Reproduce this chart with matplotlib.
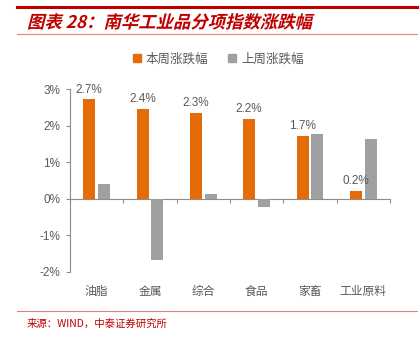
import matplotlib
matplotlib.use("Agg")
import matplotlib.pyplot as plt
import numpy as np
from matplotlib.lines import Line2D
from matplotlib.patches import Patch, PathPatch
from matplotlib.textpath import TextPath
from matplotlib.font_manager import FontProperties
from matplotlib.transforms import Affine2D

plt.rcParams['font.family'] = ['Liberation Sans', 'Noto Sans CJK SC', 'DejaVu Sans']

categories = ['油脂', '金属', '综合', '食品', '家畜', '工业原料']
this_week = [2.72, 2.45, 2.34, 2.18, 1.72, 0.21]
last_week = [0.41, -1.66, 0.14, -0.22, 1.78, 1.63]
value_labels = ['2.7%', '2.4%', '2.3%', '2.2%', '1.7%', '0.2%']
yticks = [-2, -1, 0, 1, 2, 3]
series_names = ['本周涨跌幅', '上周涨跌幅']

orange = '#E36C09'
gray = '#A0A0A0'
txt = '#595959'
axc = '#8C8C8C'
red = '#C00000'

fig = plt.figure(figsize=(4.2, 3.43), dpi=100)
ax = fig.add_axes([70/420, 1-272/343, 320/420, 183/343])

x = np.arange(len(categories))
w = 0.225
off = 0.14
ax.bar(x - off, this_week, w, color=orange, zorder=3)
ax.bar(x + off, last_week, w, color=gray, zorder=3)

for xi, v, lab in zip(x, this_week, value_labels):
    ax.text(xi - off, v + 0.1, lab, ha='center', va='bottom', fontsize=8.5, color=txt)

ax.set_xlim(-0.5, len(categories) - 0.5)
ax.set_ylim(-2, 3)
ax.set_yticks(yticks)
ax.set_yticklabels([f'{t}%' for t in yticks], fontsize=8.5, color=txt)
ax.tick_params(axis='y', direction='out', length=3, color=axc, pad=4)

for s in ['top', 'right', 'bottom']:
    ax.spines[s].set_visible(False)
ax.spines['left'].set_color(axc)
ax.spines['left'].set_linewidth(0.8)

ax.set_xticks(x)
ax.set_xticklabels(categories, fontsize=8.5, color=txt, family=['Noto Sans CJK SC'])
ax.tick_params(axis='x', length=0, pad=9)

sec = ax.secondary_xaxis(0.4)
sec.set_xticks(np.arange(-0.5, len(categories)))
sec.set_xticklabels([])
sec.tick_params(axis='x', direction='out', length=3, color=axc)
sec.spines['bottom'].set_color(axc)
sec.spines['bottom'].set_linewidth(0.8)

handles = [Patch(color=orange), Patch(color=gray)]
fig.legend(handles, series_names, loc='center', bbox_to_anchor=(0.52, 1-59/343), ncol=2,
           frameon=False, handlelength=0.6, handleheight=0.6, handletextpad=0.4,
           columnspacing=1.6, labelcolor=txt, prop={'family': ['Noto Sans CJK SC'], 'size': 9})

# decorations
fig.add_artist(Line2D([17/420, 417/420], [1-7/343, 1-7/343], color=red, lw=2.2))
fig.add_artist(Line2D([17/420, 417/420], [1-34/343, 1-34/343], color='#E88080', lw=0.8))
fig.add_artist(Line2D([17/420, 417/420], [1-311/343, 1-311/343], color='#E08080', lw=0.8))

# italic-looking title via sheared text path
fp = FontProperties(family='Noto Sans CJK SC', weight='bold')
tp = TextPath((0, 0), '图表 28：南华工业品分项指数涨跌幅', size=12.5, prop=fp)
tr = Affine2D().skew_deg(14, 0).scale(1/72).translate(27/100, (343-28)/100) + fig.dpi_scale_trans
fig.add_artist(PathPatch(tp, transform=tr, color=red, lw=0))

fig.text(27/420, 1-324/343, '来源：WIND，中泰证券研究所', color=red, fontsize=7.5,
         ha='left', va='center', family=['Noto Sans CJK SC'])

fig.savefig('out.png', dpi=100)
